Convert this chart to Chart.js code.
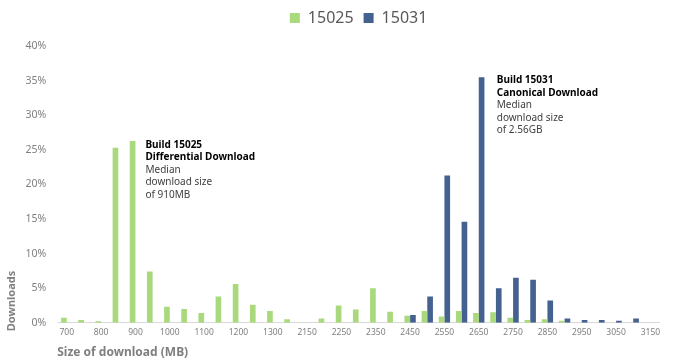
<!DOCTYPE html>
<html>
<head>
<meta charset="utf-8">
<script src="https://cdn.jsdelivr.net/npm/chart.js@4"></script>
<style>
  html, body { margin: 0; padding: 0; background: #fff; }
  #wrap { width: 673px; height: 363px; position: relative; }
</style>
</head>
<body>
<div id="wrap"><canvas id="sizeChart"></canvas></div>
<script>
// download size buckets (MB), every other one gets a label
var sizes = ['700', '750', '800', '850', '900', '950', '1000', '1050', '1100', '1150',
    '1200', '1250', '1300', '1350', '2150', '2200', '2250', '2300', '2350', '2400',
    '2450', '2500', '2550', '2600', '2650', '2700', '2750', '2800', '2850', '2900',
    '2950', '3000', '3050', '3100', '3150'];

// share of downloads (%)
var build15025 = [0.7, 0.4, 0.2, 25.3, 26.3, 7.4, 2.3, 2.0, 1.4, 3.8,
    5.6, 2.6, 1.7, 0.5, 0, 0.6, 2.5, 1.9, 5.0, 1.6,
    1.0, 1.7, 0.9, 1.7, 1.4, 1.5, 0.7, 0.4, 0.5, 0.3,
    0, 0, 0, 0, 0];
var build15031 = [0, 0, 0, 0, 0, 0, 0, 0, 0, 0,
    0, 0, 0, 0, 0, 0, 0, 0, 0, 0,
    1.1, 3.8, 21.3, 14.6, 35.5, 5.0, 6.5, 6.2, 3.2, 0.6,
    0.4, 0.4, 0.3, 0.6, 0];

var yTicks = [0, 5, 10, 15, 20, 25, 30, 35, 40];

var notes = [
    { at: '900', value: 26.3, dx: 10, dy: 7,
      bold: ['Build 15025', 'Differential Download'],
      plain: ['Median', 'download size', 'of 910MB'] },
    { at: '2650', value: 35.5, dx: 18, dy: 6,
      bold: ['Build 15031', 'Canonical Download'],
      plain: ['Median', 'download size', 'of 2.56GB'] }
];

var FONT = 'Noto Sans';

// draws the callouts and both axis titles
var extras = {
    id: 'extras',
    afterDraw: function(chart) {
        var c = chart.ctx;
        var xs = chart.scales.x, ys = chart.scales.y;
        c.save();
        c.textAlign = 'left';
        c.textBaseline = 'alphabetic';
        notes.forEach(function(n) {
            var x = xs.getPixelForValue(sizes.indexOf(n.at)) + n.dx;
            var y = ys.getPixelForValue(n.value) + n.dy;
            c.fillStyle = '#000000';
            c.font = 'bold 10px "' + FONT + '"';
            n.bold.forEach(function(t) { c.fillText(t, x, y); y += 12.4; });
            c.fillStyle = '#404040';
            c.font = '10px "' + FONT + '"';
            n.plain.forEach(function(t) { c.fillText(t, x, y); y += 12.4; });
        });

        c.fillStyle = '#7f7f7f';
        c.font = 'bold 12px "' + FONT + '"';
        c.textBaseline = 'middle';
        c.fillText('Size of download (MB)', chart.chartArea.left - 1, 353);

        c.font = 'bold 11px "' + FONT + '"';
        c.translate(12, 301);
        c.rotate(-Math.PI / 2);
        c.textAlign = 'center';
        c.fillText('Downloads', 0, 0);
        c.restore();
    }
};

var ctx = document.getElementById('sizeChart').getContext('2d');
var chart = new Chart(ctx, {
    type: 'bar',
    data: {
        labels: sizes,
        datasets: [
            { label: '15025', data: build15025, backgroundColor: '#a9d97c' },
            { label: '15031', data: build15031, backgroundColor: '#45618f' }
        ]
    },
    options: {
        responsive: true,
        maintainAspectRatio: false,
        animation: false,
        layout: { padding: { left: 0, right: 14, top: 0, bottom: 0 } },
        datasets: {
            bar: { categoryPercentage: 0.66, barPercentage: 1.0 }
        },
        plugins: {
            tooltip: { enabled: false },
            legend: {
                position: 'top',
                fullSize: false,
                labels: {
                    font: { family: FONT, size: 16 },
                    color: '#595959',
                    boxWidth: 10,
                    boxHeight: 10,
                    padding: 10
                }
            },
            // empty spacer between legend and plot
            subtitle: {
                display: true,
                text: '',
                position: 'top',
                weight: 500,
                font: { size: 1 },
                padding: { top: 9, bottom: 0 }
            }
        },
        scales: {
            x: {
                grid: { display: false, drawTicks: false },
                border: { display: true, color: '#d9d9d9', width: 1 },
                ticks: {
                    autoSkip: false,
                    maxRotation: 0,
                    padding: 5,
                    color: '#7f7f7f',
                    font: { family: FONT, size: 8.5 },
                    callback: function(v, i) { return i % 2 === 0 ? sizes[i] : ''; }
                },
                afterFit: function(s) { s.height = 40.3; }
            },
            y: {
                min: 0,
                max: 40,
                grid: { display: false, drawTicks: false },
                border: { display: false },
                afterBuildTicks: function(s) {
                    s.ticks = yTicks.map(function(v) { return { value: v }; });
                },
                ticks: {
                    padding: 12,
                    color: '#7f7f7f',
                    font: { family: FONT, size: 10.5 },
                    callback: function(v) { return v + '%'; }
                },
                afterFit: function(s) { s.width = 58.2; }
            }
        }
    },
    plugins: [extras]
});
</script>
</body>
</html>
